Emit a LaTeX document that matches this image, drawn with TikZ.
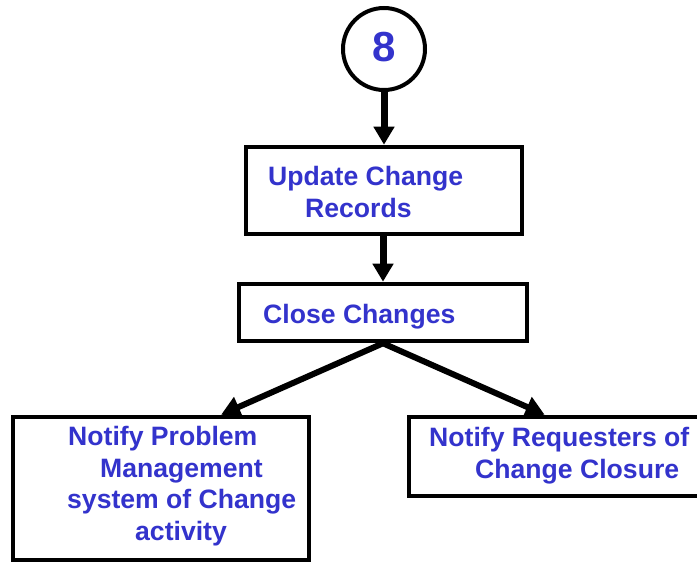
\documentclass[tikz,border=0pt]{standalone}
\usepackage{fontspec}
\setmainfont{Liberation Sans}
\usetikzlibrary{arrows.meta,calc}
\definecolor{labelblue}{HTML}{3333CC}
\begin{document}
\begin{tikzpicture}[x=1pt,y=-1pt,
  box/.style={draw=black,line width=4.6pt,inner sep=0pt,fill=white},
  lbl/.style={text=labelblue,inner sep=0pt,anchor=base west,align=left,
    font=\bfseries\fontsize{26.6}{31.5}\selectfont},
  flow/.style={line width=7pt,-{Triangle[width=20pt,length=18pt]}},
  fork/.style={line width=6pt,miter limit=10,
    {Triangle[width=21pt,length=19pt]}-{Triangle[width=21pt,length=19pt]}}]
\useasboundingbox (0,0) rectangle (697,562);

% step marker
\node[circle,draw=black,line width=4pt,minimum size=82pt,inner sep=0pt] (step8) at (384,49) {};
\node[text=labelblue,inner sep=0pt,font=\bfseries\fontsize{42}{42}\selectfont] (num8) at (384,47) {8};

% process boxes
\node[box,minimum width=276pt,minimum height=87pt] (update) at (384,190.5) {};
\node[box,minimum width=288pt,minimum height=57pt] (close) at (383,312.5) {};
\node[box,minimum width=296pt,minimum height=143pt] (notifypm) at (161,488.5) {};
\node[box,minimum width=311pt,minimum height=79pt] (notifyreq) at (564.5,456.5) {};

% box captions (anchored on the baseline of their last line)
\node[lbl] (tupdate) at (268,217) {Update Change\\\hspace*{37pt}Records};
\node[lbl] (tclose) at (263,323) {Close Changes};
\node[lbl] (tnotifypm) at (67,540) {\hspace*{1pt}Notify Problem\\\hspace*{33pt}Management\\system of Change\\\hspace*{68pt}activity};
\node[lbl] (tnotifyreq) at (429,478) {Notify Requesters of\\\hspace*{46pt}Change Closure};

% connectors
\draw[flow] (step8.south) -- (step8.south |- update.north);
\draw[flow] (update.south -| close.north) -- (close.north);
\draw[fork] ($(notifypm.north west)!0.70!(notifypm.north east)$) -- (close.south)
  -- ($(notifyreq.north west)!0.437!(notifyreq.north east)$);
\end{tikzpicture}
\end{document}
